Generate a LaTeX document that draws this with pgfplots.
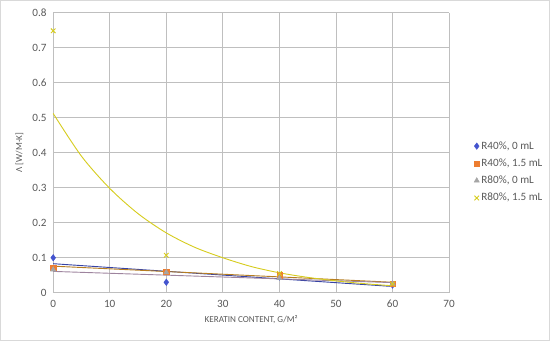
\documentclass[border=0pt]{standalone}
\usepackage{fontspec}
\setmainfont{Carlito}
\usepackage{pgfplots}
\pgfplotsset{compat=1.18}
\usetikzlibrary{calc}
\definecolor{txt}{RGB}{89,89,89}
\definecolor{grid}{RGB}{217,217,217}
\definecolor{sblue}{RGB}{68,84,206}
\definecolor{sorange}{RGB}{237,125,49}
\definecolor{sgray}{RGB}{165,165,165}
\definecolor{syellow}{RGB}{214,204,30}

\begin{document}
\begin{tikzpicture}
\begin{axis}[
    name=ax,
    scale only axis,
    width=390pt, height=276pt,
    xmin=0, xmax=70, ymin=0, ymax=0.8,
    xtick={0,10,...,70},
    ytick={0,0.1,...,0.8},
    axis line style={draw=none},
    major tick length=0pt,
    grid=major,
    major grid style={grid, line width=0.8pt},
    clip=false,
    font=\fontsize{11}{13}\selectfont,
    tick label style={text=txt},
    /pgf/number format/assume math mode=true,
    yticklabel style={/pgf/number format/fixed, /pgf/number format/precision=1, xshift=-3pt},
    xticklabel style={yshift=-4pt},
    xlabel={KERATIN CONTENT, G/M²},
    ylabel={Λ [W/M·K]},
    label style={text=txt, font=\fontsize{9}{11}\selectfont},
    xlabel style={yshift=0pt},
    ylabel style={yshift=2pt},
    legend style={at={(1.055,0.431)}, anchor=west, draw=none, fill=none,
        font=\fontsize{11}{13}\selectfont, text=txt, row sep=4pt,
        legend cell align=left},
    legend image code/.code={\draw[mark repeat=2,mark phase=2] plot coordinates {(0pt,0pt)(4pt,0pt)(8pt,0pt)};},
]
% trend lines
\addplot[forget plot, sblue!80!black, line width=0.9pt] coordinates {(0,0.083) (60,0.018)};
\addplot[forget plot, sorange!60!syellow!80!black, line width=0.9pt] coordinates {(0,0.076) (60,0.030)};
\addplot[forget plot, sgray!80!violet, line width=0.9pt] coordinates {(0,0.061) (60,0.029)};
\addplot[forget plot, syellow, line width=0.9pt, smooth] coordinates {
 (0,0.512) (5,0.390) (10,0.298) (15,0.226) (20,0.171) (25,0.130) (30,0.100)
 (35,0.075) (40,0.057) (45,0.044) (50,0.034) (55,0.026) (60,0.020)};
% data
\addplot[only marks, mark=diamond*, mark size=3.2pt, color=sblue] coordinates {
 (0,0.100) (20,0.030) (40,0.045) (60,0.022)};
\addlegendentry{R40\%, 0 mL}
\addplot[only marks, mark=square*, mark size=2.6pt, color=sorange] coordinates {
 (0,0.072) (20,0.060) (40,0.050) (60,0.025)};
\addlegendentry{R40\%, 1.5 mL}
\addplot[only marks, mark=triangle*, mark size=3pt, color=sgray] coordinates {
 (0,0.066) (20,0.058) (40,0.042) (60,0.026)};
\addlegendentry{R80\%, 0 mL}
\addplot[only marks, mark=x, mark size=3.2pt, line width=0.9pt, color=syellow] coordinates {
 (0,0.748) (20,0.107) (40,0.055) (60,0.025)};
\addlegendentry{R80\%, 1.5 mL}
\end{axis}
\draw[grid, line width=0.8pt] ($(ax.south west)+(-52pt,-47pt)$) rectangle ($(ax.south west)+(489pt,288pt)$);
\end{tikzpicture}
\end{document}
